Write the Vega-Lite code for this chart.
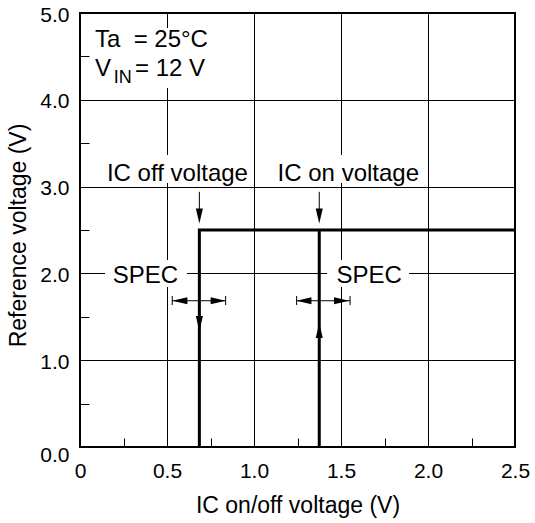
{
  "$schema": "https://vega.github.io/schema/vega-lite/v6.json",
  "width": 435,
  "height": 434,
  "autosize": "none",
  "padding": {"left": 80, "top": 13, "right": 20, "bottom": 76},
  "background": "white",
  "config": {
    "font": "Liberation Sans",
    "view": {"stroke": "black", "strokeWidth": 2}
  },
  "datasets": {
    "boxes": [
      {"x": 0.069, "x2": 0.759, "y": 4.827, "y2": 4.136},
      {"x": 0.138, "x2": 0.977, "y": 3.364, "y2": 3.041},
      {"x": 1.115, "x2": 1.966, "y": 3.364, "y2": 3.041},
      {"x": 0.144, "x2": 0.615, "y": 2.154, "y2": 1.843},
      {"x": 1.42, "x2": 1.891, "y": 2.154, "y2": 1.843}
    ],
    "steps": [
      {"s": "off", "o": 1, "x": 0.686, "y": 0},
      {"s": "off", "o": 2, "x": 0.686, "y": 2.5},
      {"s": "off", "o": 3, "x": 2.5, "y": 2.5},
      {"s": "on", "o": 1, "x": 1.375, "y": 0},
      {"s": "on", "o": 2, "x": 1.375, "y": 2.5}
    ],
    "segs": [
      {"x": 0.686, "x2": 0.686, "y": 2.94, "y2": 2.65},
      {"x": 1.375, "x2": 1.375, "y": 2.94, "y2": 2.65},
      {"x": 0.53, "x2": 0.837, "y": 1.685, "y2": 1.685},
      {"x": 0.53, "x2": 0.53, "y": 1.74, "y2": 1.635},
      {"x": 0.837, "x2": 0.837, "y": 1.74, "y2": 1.635},
      {"x": 1.245, "x2": 1.552, "y": 1.685, "y2": 1.685},
      {"x": 1.245, "x2": 1.245, "y": 1.74, "y2": 1.635},
      {"x": 1.552, "x2": 1.552, "y": 1.74, "y2": 1.635}
    ],
    "heads": [
      {"x": 0.686, "y": 2.661, "dir": "down"},
      {"x": 1.375, "y": 2.661, "dir": "down"},
      {"x": 0.686, "y": 1.423, "dir": "down"},
      {"x": 1.375, "y": 1.342, "dir": "up"},
      {"x": 0.574, "y": 1.685, "dir": "left"},
      {"x": 0.794, "y": 1.685, "dir": "right"},
      {"x": 1.287, "y": 1.685, "dir": "left"},
      {"x": 1.503, "y": 1.685, "dir": "right"}
    ],
    "ctext": [
      {"t": "IC off voltage", "x": 0.56, "y": 3.065},
      {"t": "IC on voltage", "x": 1.542, "y": 3.065},
      {"t": "SPEC", "x": 0.376, "y": 1.893},
      {"t": "SPEC", "x": 1.662, "y": 1.893}
    ],
    "ltext": [
      {"t": "Ta\u00a0 = 25°C", "x": 0.086, "y": 4.612},
      {"t": "V", "x": 0.086, "y": 4.274},
      {"t": "= 12 V", "x": 0.316, "y": 4.274}
    ],
    "stext": [
      {"t": "IN", "x": 0.194, "y": 4.197}
    ]
  },
  "layer": [
    {
      "data": {"name": "boxes"},
      "mark": {"type": "rect", "fill": "white", "stroke": null},
      "encoding": {
        "x": {
          "field": "x", "type": "quantitative",
          "scale": {"domain": [0, 2.5], "nice": false, "zero": false},
          "axis": {
            "title": "IC on/off voltage (V)",
            "values": [0, 0.25, 0.5, 0.75, 1, 1.25, 1.5, 1.75, 2, 2.25, 2.5],
            "domain": false,
            "grid": true,
            "gridColor": "black",
            "gridWidth": 1,
            "gridOpacity": {"condition": {"test": "(datum.value*2)%1==0", "value": 1}, "value": 0},
            "ticks": true,
            "tickSize": -9,
            "tickColor": "black",
            "tickWidth": 1,
            "tickOpacity": {"condition": {"test": "(datum.value*2)%1==0", "value": 0}, "value": 1},
            "labelExpr": "(datum.value*2)%1 != 0 ? '' : (datum.value == 0 ? '0' : format(datum.value, '.1f'))",
            "labelFont": "Liberation Sans",
            "labelFontSize": 21,
            "labelColor": "black",
            "labelPadding": 39,
            "labelBaseline": "alphabetic",
            "labelFlush": false,
            "labelOverlap": false,
            "titleFont": "Liberation Sans",
            "titleFontSize": 23,
            "titleFontWeight": "normal",
            "titleColor": "black",
            "titleX": 217.5,
            "titleY": 65,
            "titleBaseline": "alphabetic"
          }
        },
        "x2": {"field": "x2"},
        "y": {
          "field": "y", "type": "quantitative",
          "scale": {"domain": [0, 5], "nice": false, "zero": false},
          "axis": {
            "title": "Reference voltage (V)",
            "values": [0, 0.5, 1, 1.5, 2, 2.5, 3, 3.5, 4, 4.5, 5],
            "domain": false,
            "grid": true,
            "gridColor": "black",
            "gridWidth": 1,
            "gridOpacity": {"condition": {"test": "datum.value%1==0", "value": 1}, "value": 0},
            "ticks": true,
            "tickSize": -9,
            "tickColor": "black",
            "tickWidth": 1,
            "tickOpacity": {"condition": {"test": "datum.value%1==0", "value": 0}, "value": 1},
            "labelExpr": "datum.value%1 != 0 ? '' : format(datum.value, '.1f')",
            "labelFont": "Liberation Sans",
            "labelFontSize": 21,
            "labelColor": "black",
            "labelPadding": 20,
            "labelBaseline": "middle",
            "labelOffset": {"condition": {"test": "datum.value==0", "value": 8}, "value": 2},
            "labelFlush": false,
            "labelOverlap": false,
            "titleFont": "Liberation Sans",
            "titleFontSize": 23,
            "titleFontWeight": "normal",
            "titleColor": "black",
            "titleX": -55,
            "titleY": 222,
            "titleBaseline": "alphabetic"
          }
        },
        "y2": {"field": "y2"}
      }
    },
    {
      "data": {"name": "steps"},
      "mark": {"type": "line", "color": "black", "strokeWidth": 3},
      "encoding": {
        "x": {"field": "x", "type": "quantitative"},
        "y": {"field": "y", "type": "quantitative"},
        "detail": {"field": "s"},
        "order": {"field": "o", "type": "quantitative"}
      }
    },
    {
      "data": {"name": "segs"},
      "mark": {"type": "rule", "color": "black", "strokeWidth": 1},
      "encoding": {
        "x": {"field": "x", "type": "quantitative"},
        "x2": {"field": "x2"},
        "y": {"field": "y", "type": "quantitative"},
        "y2": {"field": "y2"}
      }
    },
    {
      "data": {"name": "heads"},
      "mark": {"type": "point", "filled": true, "color": "black", "opacity": 1, "size": 225, "strokeWidth": 0},
      "encoding": {
        "x": {"field": "x", "type": "quantitative"},
        "y": {"field": "y", "type": "quantitative"},
        "shape": {
          "field": "dir", "type": "nominal", "legend": null,
          "scale": {
            "domain": ["down", "up", "left", "right"],
            "range": ["M-0.47,-1L0.47,-1L0,1Z", "M-0.47,1L0.47,1L0,-1Z", "M1,-0.47L1,0.47L-1,0Z", "M-1,-0.47L-1,0.47L1,0Z"]
          }
        }
      }
    },
    {
      "data": {"name": "ctext"},
      "mark": {"type": "text", "font": "Liberation Sans", "fontSize": 24, "align": "center", "baseline": "alphabetic", "color": "black"},
      "encoding": {
        "x": {"field": "x", "type": "quantitative"},
        "y": {"field": "y", "type": "quantitative"},
        "text": {"field": "t"}
      }
    },
    {
      "data": {"name": "ltext"},
      "mark": {"type": "text", "font": "Liberation Sans", "fontSize": 24, "align": "left", "baseline": "alphabetic", "color": "black"},
      "encoding": {
        "x": {"field": "x", "type": "quantitative"},
        "y": {"field": "y", "type": "quantitative"},
        "text": {"field": "t"}
      }
    },
    {
      "data": {"name": "stext"},
      "mark": {"type": "text", "font": "Liberation Sans", "fontSize": 18, "align": "left", "baseline": "alphabetic", "color": "black"},
      "encoding": {
        "x": {"field": "x", "type": "quantitative"},
        "y": {"field": "y", "type": "quantitative"},
        "text": {"field": "t"}
      }
    }
  ]
}
